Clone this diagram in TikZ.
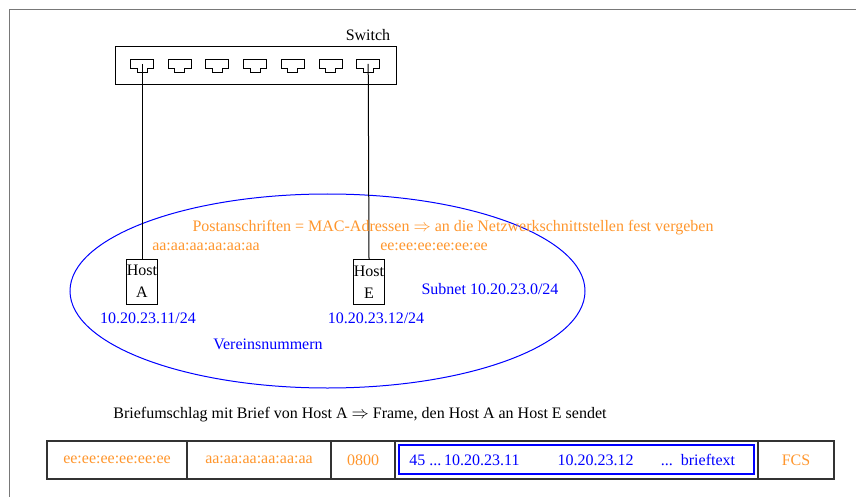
\documentclass[tikz,border=0pt]{standalone}
\usepackage{fontspec}
\setmainfont{Liberation Serif}
\definecolor{ora}{RGB}{255,150,45}
\definecolor{frm}{RGB}{120,120,120}
\begin{document}
\begin{tikzpicture}[x=1pt,y=-1pt,
  every node/.style={font=\fontsize{16}{19}\selectfont, inner sep=0pt},
  otxt/.style={text=ora},
  btxt/.style={text=blue},
  port/.style={line width=0.9pt},
  host/.style={draw, line width=1pt, minimum width=30, minimum height=45, align=center, font=\fontsize{16}{22}\selectfont},
  link/.style={line width=1pt},
  cell/.style={draw=black!80, line width=1.2pt, minimum height=38},
]
\useasboundingbox (0,0) rectangle (856,497);
% outer frame (clipped)
\draw[frm, line width=1.5pt] (856,9.5) -- (9.5,9.5) -- (9.5,497);

% switch
\node[draw, line width=1pt, minimum width=281, minimum height=38] (switch) at (256,66) {};
\node (swlabel) at (368,35) {Switch};
\foreach \i in {0,...,6} {
  \pgfmathsetmacro\cx{142+37.7*\i}
  \draw[port, shift={(\cx,0)}] (-11.5,59) -- (11.5,59) -- (11.5,68) -- (5,68) -- (5,72) -- (-5,72) -- (-5,68) -- (-11.5,68) -- cycle;
  \coordinate (p\i) at (\cx,64);
}

% subnet ellipse
\draw[blue, line width=1pt] (327.5,291) ellipse [x radius=257.5pt, y radius=97pt];

% hosts
\node[host] (hostA) at (142,281.5) {Host\\A};
\node[host] (hostE) at (369,282) {Host\\E};
\draw[link] (p0) -- (hostA.north);
\draw[link] (p6) -- (hostE.north);

% labels
\node[otxt] (mac) at (453,228) {Postanschriften = MAC-Adressen $\Rightarrow$ an die Netzwerkschnittstellen fest vergeben};
\node[otxt] (macA) at (206,247) {aa:aa:aa:aa:aa:aa};
\node[otxt] (macE) at (434,247) {ee:ee:ee:ee:ee:ee};
\node[btxt] (ipA) at (148,318) {10.20.23.11/24};
\node[btxt] (ipE) at (376,318) {10.20.23.12/24};
\node[btxt] (subnet) at (490,289) {Subnet 10.20.23.0/24};
\node[btxt] (verein) at (268,344) {Vereinsnummern};

\node (caption) at (360,415) {Briefumschlag mit Brief von Host A $\Rightarrow$ Frame, den Host A an Host E sendet};

% frame
\node[cell, minimum width=140] (c1) at (117,460) {};
\node[cell, minimum width=144] (c2) at (259,460) {};
\node[cell, minimum width=64] (c3) at (363,460) {};
\node[cell, minimum width=363] (c4) at (576.5,460) {};
\node[cell, minimum width=76] (c5) at (796,460) {};
\node[otxt] (t1) at (c1) {ee:ee:ee:ee:ee:ee};
\node[otxt] (t2) at (c2) {aa:aa:aa:aa:aa:aa};
\node[otxt] (t3) at (c3) {0800};
\node[otxt] (t5) at (c5) {FCS};
\node[draw=blue, line width=1.2pt, minimum width=355, minimum height=29] (ipbox) at (576.5,459.5) {};
\node[btxt] (b1) at (464.5,460) {45 ...\,10.20.23.11};
\node[btxt] (b2) at (595.5,460) {10.20.23.12};
\node[btxt] (b3) at (698,460) {...\ \ brieftext};
\end{tikzpicture}
\end{document}
